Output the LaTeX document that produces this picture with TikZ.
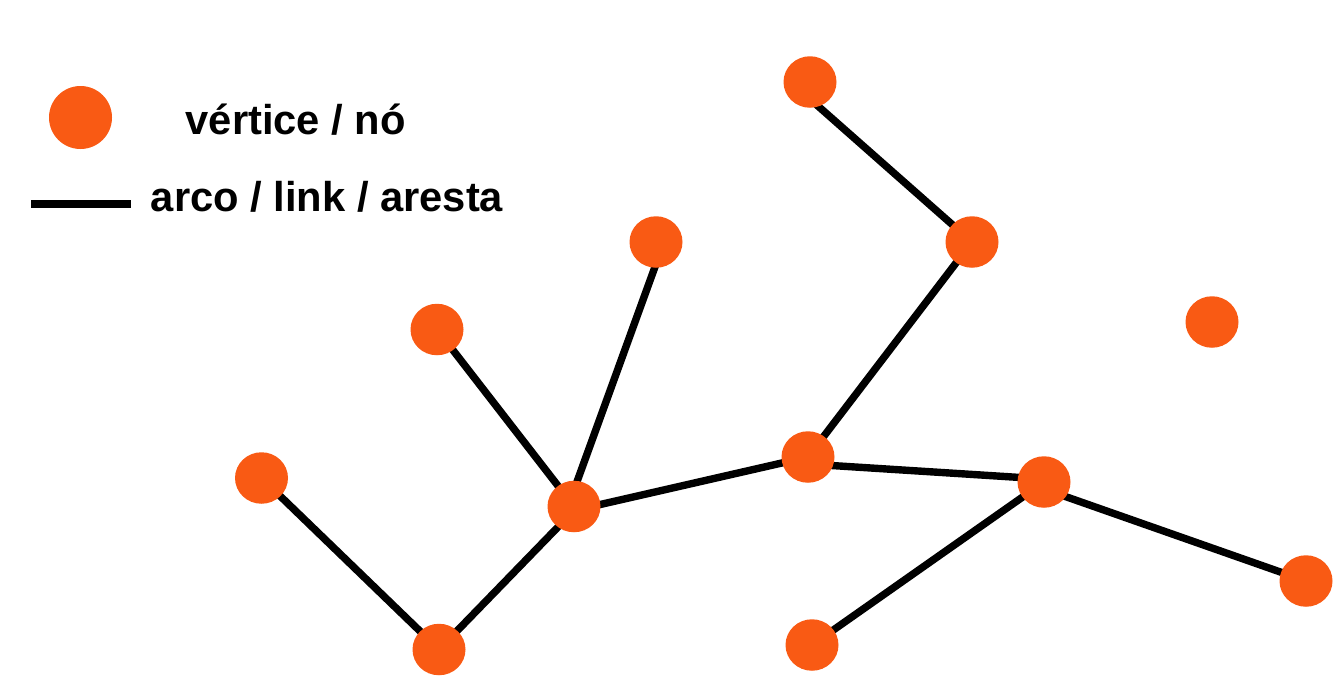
\documentclass[tikz,border=0pt]{standalone}
\usepackage{fontspec}
\setmainfont{Liberation Sans}
\usetikzlibrary{shapes.geometric,backgrounds,calc}
\definecolor{vorange}{RGB}{249,90,20}
\tikzset{
  vertex/.style={ellipse,fill=vorange,draw=none,minimum width=53pt,minimum height=51.5pt,inner sep=0pt},
  legvertex/.style={circle,fill=vorange,draw=none,minimum size=63pt,inner sep=0pt},
  edge/.style={line width=7.4pt,black},
  legtext/.style={anchor=base west,inner sep=0pt,font=\fontsize{41.7}{50}\selectfont\bfseries}
}
\begin{document}
\begin{tikzpicture}[x=1pt,y=-1pt]
\useasboundingbox (0,0) rectangle (1339,686);
% legend
\node[legvertex] (lv) at (80.5,117.5) {};
\node[legtext] (lt1) at (185.5,134) {vértice / nó};
\coordinate (ls) at (31,204);
\coordinate (le) at (131,204);
\draw[line width=7.7pt] (ls) -- (le);
\node[legtext] (lt2) at (150.7,211) {arco / link / aresta};
% vertices
\node[vertex] (A) at (810,82) {};
\node[vertex] (B) at (972,242) {};
\node[vertex] (C) at (656,242) {};
\node[vertex] (D) at (437,329.5) {};
\node[vertex] (E) at (1212,322) {};
\node[vertex] (F) at (808,457) {};
\node[vertex] (G) at (261.5,478) {};
\node[vertex] (H) at (574,506.5) {};
\node[vertex] (I) at (1044,482) {};
\node[vertex] (J) at (1306,581) {};
\node[vertex] (K) at (439,649.5) {};
\node[vertex] (L) at (812,645) {};
% edges
\begin{scope}[on background layer]
\draw[edge] ($(A.center)+(0,17)$) -- (B.center);
\draw[edge] (B.center) -- (F.center);
\draw[edge] ($(C.center)+(8,0)$) -- ($(H.center)+(-6,0)$);
\draw[edge] (D.center) -- (H.center);
\draw[edge] (G.center) -- (K.center);
\draw[edge] (K.center) -- ($(H.center)+(0,4)$);
\draw[edge] ($(H.center)+(0,4)$) -- (F.center);
\draw[edge] ($(F.center)+(0,7)$) -- ($(I.center)+(0,-3)$);
\draw[edge] (I.center) -- (L.center);
\draw[edge] ($(I.center)+(0,7)$) -- (J.center);
\end{scope}
\end{tikzpicture}
\end{document}
